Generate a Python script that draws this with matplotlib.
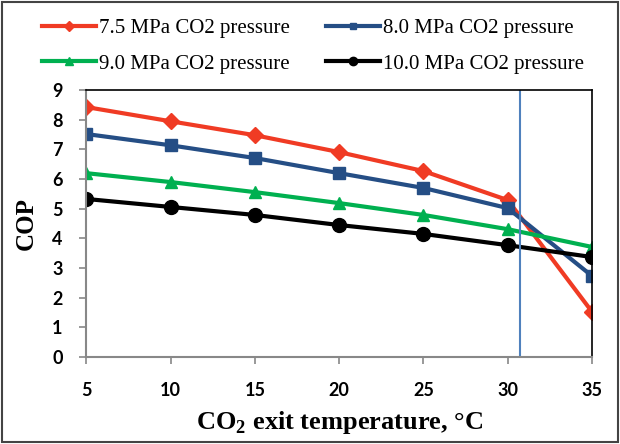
import matplotlib
matplotlib.use("Agg")
import matplotlib.pyplot as plt
from matplotlib.patches import Rectangle

# data
temps = [5, 10, 15, 20, 25, 30, 35]
cop_75 = [8.43, 7.95, 7.48, 6.91, 6.27, 5.29, 1.52]
cop_80 = [7.52, 7.14, 6.71, 6.20, 5.70, 5.02, 2.73]
cop_90 = [6.20, 5.90, 5.56, 5.19, 4.79, 4.31, 3.71]
cop_100 = [5.33, 5.06, 4.79, 4.45, 4.15, 3.77, 3.37]
crit_temp = 30.7
labels = ["7.5 MPa CO2 pressure", "8.0 MPa CO2 pressure",
          "9.0 MPa CO2 pressure", "10.0 MPa CO2 pressure"]

plt.rcParams["mathtext.fontset"] = "custom"
plt.rcParams["mathtext.rm"] = "Liberation Serif:bold"
plt.rcParams["mathtext.bf"] = "Liberation Serif:bold"

fig = plt.figure(figsize=(6.2, 4.44), dpi=100)
ax = fig.add_axes([0.139, 0.196, 0.816, 0.601])

series = [
    (cop_75, "#F03B24", "D", 8),
    (cop_80, "#254E85", "s", 8),
    (cop_90, "#00B050", "^", 9),
    (cop_100, "#000000", "o", 10),
]
handles = []
for vals, col, mk, ms in series:
    h, = ax.plot(temps, vals, color=col, marker=mk, markersize=ms, lw=3)
    handles.append(h)

ax.axvline(crit_temp, color="#4F81BD", lw=1.5)

ax.set_xlim(5, 35)
ax.set_ylim(0, 9)
ax.set_xticks(temps)
ax.set_yticks(range(10))
for sp in ["left", "bottom"]:
    ax.spines[sp].set_color("#888888")
    ax.spines[sp].set_linewidth(1.5)
for sp in ["top", "right"]:
    ax.spines[sp].set_color("black")
    ax.spines[sp].set_linewidth(1.2)
ax.tick_params(direction="out", color="#888888", length=5, width=1.2, labelsize=13)
for t in ax.get_xticklabels() + ax.get_yticklabels():
    t.set_fontfamily("Lato")
    t.set_fontweight("bold")
ax.tick_params(axis="x", pad=13)
ax.tick_params(axis="y", pad=12)

ax.set_ylabel("COP", fontfamily="Liberation Serif", fontweight="bold", fontsize=18,
              labelpad=10)
ax.set_xlabel("CO$_\\mathbf{2}$ exit temperature, °C", fontfamily="Liberation Serif",
              fontweight="bold", fontsize=19, labelpad=7)

# legend rows go 7.5 / 8.0 then 9.0 / 10.0
order = [0, 2, 1, 3]
fig.legend([handles[i] for i in order], [labels[i] for i in order],
           loc="upper center", bbox_to_anchor=(0.505, 1.0), ncol=2,
           frameon=False, prop={"family": "Liberation Serif", "size": 15},
           handlelength=2.6, handletextpad=0.15, columnspacing=1.7, labelspacing=0.75,
           markerscale=0.6)

fig.patches.append(Rectangle((0.003, 0.004), 0.994, 0.992, transform=fig.transFigure,
                             fill=False, edgecolor="#444444", lw=1.5))

fig.savefig("out.png", dpi=100)
